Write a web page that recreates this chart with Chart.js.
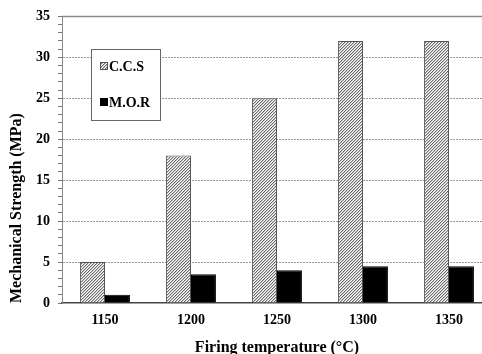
<!DOCTYPE html>
<html>
<head>
<meta charset="utf-8">
<script src="https://cdn.jsdelivr.net/npm/chart.js@4/dist/chart.umd.min.js"></script>
<style>
  html, body { margin: 0; padding: 0; background: #fff; overflow: hidden; }
  #wrap { width: 500px; height: 354px; }
</style>
</head>
<body>
<div id="wrap"><canvas id="grafico"></canvas></div>
<script>
// --- DATOS ---
const temperaturas = ['1150', '1200', '1250', '1300', '1350'];
const ccs = [5, 18, 25, 32, 32];
const mor = [1, 3.5, 4, 4.5, 4.5];
const yMin = 0, yMax = 35, yPaso = 5;

const FUENTE = 'Liberation Serif';

// patrón rayado para C.C.S (diagonal fina, pixel a pixel)
function crearRayado() {
  const c = document.createElement('canvas');
  c.width = 3; c.height = 3;
  const g = c.getContext('2d');
  g.fillStyle = '#fff';
  g.fillRect(0, 0, 3, 3);
  g.fillStyle = '#6a6a6a';
  g.fillRect(0, 2, 1, 1);
  g.fillRect(1, 1, 1, 1);
  g.fillRect(2, 0, 1, 1);
  g.fillStyle = '#c4c4c4';
  g.fillRect(1, 2, 1, 1);
  g.fillRect(2, 1, 1, 1);
  g.fillRect(0, 0, 1, 1);
  return g.createPattern(c, 'repeat');
}
const rayado = crearRayado();

// leyenda dentro del área y borde superior
const extras = {
  id: 'extras',
  afterDraw(chart) {
    const ctx = chart.ctx;
    const a = chart.chartArea;
    ctx.save();
    ctx.strokeStyle = '#8a8a8a';
    ctx.lineWidth = 1.5;
    ctx.beginPath();
    ctx.moveTo(a.left, a.top);
    ctx.lineTo(a.right, a.top);
    ctx.stroke();

    // caja de leyenda
    ctx.fillStyle = '#fff';
    ctx.fillRect(91.5, 49.5, 69, 71);
    ctx.strokeStyle = '#666';
    ctx.lineWidth = 1;
    ctx.strokeRect(91.5, 49.5, 69, 71);

    const ds = chart.data.datasets;
    const filas = [66, 102];
    ctx.font = 'bold 14px "' + FUENTE + '"';
    ctx.textBaseline = 'middle';
    ctx.textAlign = 'left';
    ds.forEach((d, i) => {
      const y = filas[i];
      ctx.fillStyle = d.backgroundColor;
      ctx.fillRect(100, y - 4, 8, 8);
      ctx.strokeStyle = d.borderColor;
      ctx.strokeRect(100.5, y - 3.5, 7, 7);
      ctx.fillStyle = '#000';
      ctx.fillText(d.label, 109, y + 1);
    });
    ctx.restore();
  }
};

new Chart(document.getElementById('grafico'), {
  type: 'bar',
  data: {
    labels: temperaturas,
    datasets: [
      {
        label: 'C.C.S',
        data: ccs,
        backgroundColor: rayado,
        borderColor: '#555',
        borderWidth: 1
      },
      {
        label: 'M.O.R',
        data: mor,
        backgroundColor: '#000',
        borderColor: '#000',
        borderWidth: 1
      }
    ]
  },
  options: {
    responsive: true,
    maintainAspectRatio: false,
    animation: false,
    events: [],
    datasets: {
      bar: { categoryPercentage: 0.58, barPercentage: 1 }
    },
    layout: { padding: { top: 16, right: 8, bottom: 0, left: 0 } },
    plugins: {
      legend: { display: false },
      tooltip: { enabled: false }
    },
    scales: {
      x: {
        grid: { drawOnChartArea: false, drawTicks: false },
        border: { color: '#444', width: 1.5 },
        ticks: {
          color: '#000',
          padding: 9,
          font: { family: FUENTE, size: 14, weight: 'bold' }
        },
        title: {
          display: true,
          text: 'Firing temperature (°C)',
          color: '#000',
          font: { family: FUENTE, size: 16, weight: 'bold', lineHeight: 0.8 },
          padding: { top: 10, bottom: 0 }
        },
        afterFit(s) { s.height = 51; }
      },
      y: {
        min: yMin,
        max: yMax,
        grid: {
          color: c => (c.tick && c.tick.value % yPaso === 0 && c.tick.value > yMin && c.tick.value < yMax) ? '#9a9a9a' : 'rgba(0,0,0,0)',
          tickColor: '#777',
          tickLength: 4
        },
        border: { color: '#888', width: 1, dash: [2, 1] },
        ticks: {
          stepSize: 1,
          autoSkip: false,
          color: '#000',
          padding: 8,
          font: { family: FUENTE, size: 14, weight: 'bold' },
          callback: v => (v % yPaso === 0 ? v : '')
        },
        title: {
          display: true,
          text: 'Mechanical Strength (MPa)',
          align: 'start',
          color: '#000',
          font: { family: FUENTE, size: 16, weight: 'bold', lineHeight: 1 },
          padding: { top: 9, bottom: 0 }
        },
        afterFit(s) { s.width = 62; }
      }
    }
  },
  plugins: [extras]
});
</script>
</body>
</html>
